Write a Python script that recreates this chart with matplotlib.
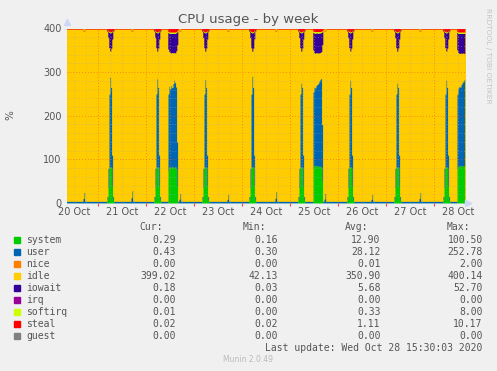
import matplotlib
matplotlib.use('Agg')
import matplotlib.pyplot as plt
from matplotlib.patches import Rectangle
import numpy as np


# sample grid: half-hour steps, hours counted from 20 Oct 00:00
t_start = 8.0
t_end = 207.5
step = 0.5

# baseline (quiet) values per series
base = {"system": 0.3, "user": 4.0, "nice": 0.0, "idle": 394.3, "iowait": 0.2,
        "irq": 0.0, "softirq": 0.0, "steal": 1.2, "guest": 0.0}

# daily backup spike, around 05:45 every day (7 samples each)
spike_hours = [28.5, 52.0, 76.0, 99.5, 124.0, 148.5, 172.0, 196.5]
spike_system = [[8, 35, 80, 83, 82, 40, 8]] * 8
spike_user = [[7, 45, 170, 206, 183, 70, 7],
              [7, 45, 170, 202, 183, 70, 7],
              [7, 45, 170, 200, 183, 70, 7],
              [7, 45, 170, 208, 183, 70, 7],
              [7, 45, 170, 192, 183, 70, 7],
              [7, 45, 170, 199, 183, 70, 7],
              [7, 45, 170, 192, 183, 70, 7],
              [7, 45, 170, 199, 183, 70, 7]]
spike_idle = [[379, 299, 106, 59, 90, 266, 379],
              [379, 299, 106, 63, 90, 266, 379],
              [379, 299, 106, 65, 90, 266, 379],
              [379, 299, 106, 57, 90, 266, 379],
              [379, 299, 106, 73, 90, 266, 379],
              [379, 299, 106, 66, 90, 266, 379],
              [379, 299, 106, 73, 90, 266, 379],
              [379, 299, 106, 66, 90, 266, 379]]
spike_iowait = [[4, 15, 35, 42, 36, 18, 4]] * 8
spike_steal = [[2, 5, 7, 8, 7, 5, 2]] * 8
spike_softirq = [[0, 1, 2, 2, 2, 1, 0]] * 8

# longer busy blocks on 22, 25 and 28 Oct
block_hours = [59.0, 131.5, 203.5]
block_system = [[74, 82, 83, 81, 84, 82, 80, 83, 78, 40],
                [80, 86, 85, 86, 84, 85, 83, 84, 82, 50],
                [78, 84, 85, 84, 86, 85, 84, 86]]
block_user = [[176, 186, 179, 189, 181, 192, 202, 193, 188, 100],
              [175, 180, 179, 184, 188, 190, 197, 200, 204, 130],
              [172, 180, 183, 182, 186, 191, 196, 197]]
block_idle = [[103, 79, 83, 74, 80, 70, 63, 68, 83, 223],
              [96, 79, 79, 75, 72, 69, 64, 61, 61, 183],
              [101, 81, 75, 77, 72, 67, 64, 60]]
block_iowait = [[38, 42, 44, 45, 44, 45, 44, 45, 42, 30],
                [40, 45, 46, 45, 46, 45, 46, 45, 44, 30],
                [40, 44, 46, 46, 45, 46, 45, 46]]
block_steal = [[7, 8, 8, 8, 8, 8, 8, 8, 7, 5],
               [6, 7, 7, 7, 7, 7, 7, 7, 6, 5],
               [7, 8, 8, 8, 8, 8, 8, 8]]
block_softirq = [[2, 3, 3, 3, 3, 3, 3, 3, 2, 2],
                 [3, 3, 4, 3, 3, 4, 3, 3, 3, 2],
                 [2, 3, 3, 3, 3, 3, 3, 3]]

# small user blips late afternoon
blip_hours = [16.5, 40.5, 64.5, 88.5, 112.5, 137.0, 160.5, 184.5]
blip_user = [[10, 24], [12, 28], [9, 22], [8, 20], [11, 26], [9, 22], [8, 20], [10, 24]]
blip_idle = [[384.3, 370.3], [382.3, 366.3], [385.3, 372.3], [386.3, 374.3],
             [383.3, 368.3], [385.3, 372.3], [386.3, 374.3], [384.3, 370.3]]

# legend table
names = ["system", "user", "nice", "idle", "iowait", "irq", "softirq", "steal", "guest"]
colors = ["#00cc00", "#0066b3", "#ff8000", "#ffcc00", "#330099", "#990099",
          "#ccff00", "#ff0000", "#808080"]
cur = [0.29, 0.43, 0.00, 399.02, 0.18, 0.00, 0.01, 0.02, 0.00]
vmin = [0.16, 0.30, 0.00, 42.13, 0.03, 0.00, 0.00, 0.02, 0.00]
vavg = [12.90, 28.12, 0.01, 350.90, 5.68, 0.00, 0.33, 1.11, 0.00]
vmax = [100.50, 252.78, 2.00, 400.14, 52.70, 0.00, 8.00, 10.17, 0.00]

day_labels = ["20 Oct", "21 Oct", "22 Oct", "23 Oct", "24 Oct", "25 Oct",
              "26 Oct", "27 Oct", "28 Oct"]


t = np.arange(t_start, t_end + step / 2, step)
series = {n: np.full(len(t), base[n]) for n in names}


def put(name, hour, vals):
    i0 = int(round((hour - t_start) / step))
    for k, v in enumerate(vals):
        if 0 <= i0 + k < len(t):
            series[name][i0 + k] = v


for j, h in enumerate(spike_hours):
    put("system", h, spike_system[j])
    put("user", h, spike_user[j])
    put("idle", h, spike_idle[j])
    put("iowait", h, spike_iowait[j])
    put("steal", h, spike_steal[j])
    put("softirq", h, spike_softirq[j])
for j, h in enumerate(block_hours):
    put("system", h, block_system[j])
    put("user", h, block_user[j])
    put("idle", h, block_idle[j])
    put("iowait", h, block_iowait[j])
    put("steal", h, block_steal[j])
    put("softirq", h, block_softirq[j])
for j, h in enumerate(blip_hours):
    put("user", h, blip_user[j])
    put("idle", h, blip_idle[j])

W, H = 497, 371
fig = plt.figure(figsize=(W / 100, H / 100), dpi=100, facecolor="#f0f0f0")
ax = fig.add_axes([67 / W, 1 - 203 / H, 399 / W, 174.5 / H])
ax.set_facecolor("#ffcc00")

low = np.zeros(len(t))
for n, c in zip(names, colors):
    high = low + series[n]
    ax.fill_between(t, low, high, step="mid", color=c, lw=0, zorder=1)
    low = high

xmin, xmax = 8.35, 207.85
ax.set_xlim(xmin, xmax)
ax.set_ylim(0, 400)

# grid (drawn on top, rrdtool style): sparse dots
px = 0.6
for y in range(20, 400, 20):
    if y % 100:
        ax.axhline(y, color="#a8a8a8", alpha=0.6, lw=px, ls=(0, (1, 2.5)), zorder=3)
for h in np.arange(6, 210, 6):
    if h % 24:
        ax.axvline(h, color="#a8a8a8", alpha=0.6, lw=px, ls=(0, (1, 2.5)), zorder=3)
for y in range(100, 401, 100):
    ax.axhline(y, color="#f05030", alpha=0.7, lw=px, ls=(0, (1, 2.5)), zorder=3)
for d in range(1, 9):
    ax.axvline(24 * d, color="#f05030", alpha=0.7, lw=px, ls=(0, (1, 2.5)), zorder=3)

for s in ax.spines.values():
    s.set_visible(False)
ax.axhline(0, color="#9fb8c8", lw=0.5, zorder=4)

ax.set_yticks([0, 100, 200, 300, 400])
ax.tick_params(axis="y", length=0, labelsize=7, labelcolor="#555555", pad=4)
ax.set_xticks([24 * d for d in range(1, 9)])
ax.set_xticklabels([])
ax.tick_params(axis="x", which="major", length=2, color="#ff4040", width=0.8)
ax.set_xticks([12 + 24 * d for d in range(9)], minor=True)
ax.set_xticklabels(day_labels, minor=True)
ax.tick_params(axis="x", which="minor", length=0, labelsize=7, labelcolor="#555555", pad=3)

# axis arrows
ax.plot([0.0], [1.035], marker="^", ms=4, color="#ccd6f6", transform=ax.transAxes, clip_on=False)
ax.plot([1.006], [0.0], marker=">", ms=4, color="#ccd6f6", transform=ax.transAxes, clip_on=False)

fig.text(248 / W, 1 - 19 / H, "CPU usage - by week", ha="center", va="center",
         fontsize=9.5, color="#555555")
fig.text(10 / W, 1 - 115 / H, "%", ha="center", va="center", rotation=90,
         fontsize=7.5, color="#555555")
fig.text(488 / W, 1 - 56 / H, "RRDTOOL / TOBI OETIKER", ha="center", va="center",
         rotation=270, fontsize=5.4, color="#c4c4c4")

mono = "DejaVu Sans Mono"
col_x = [175.7, 278.3, 380.7, 482.7]
head_x = [163, 266, 368, 470]
for hx, lab in zip(head_x, ["Cur:", "Min:", "Avg:", "Max:"]):
    fig.text(hx / W, 1 - 227.3 / H, lab, ha="right", va="center", family=mono,
             fontsize=7, color="#555555")
for r, n in enumerate(names):
    yc = 240 + r * 11.95
    fig.patches.append(Rectangle((14 / W, 1 - (yc + 3) / H), 6 / W, 6 / H,
                                 transform=fig.transFigure, color=colors[r]))
    fig.text(26.5 / W, 1 - yc / H, n, ha="left", va="center", family=mono,
             fontsize=7, color="#555555")
    for cx, v in zip(col_x, [cur[r], vmin[r], vavg[r], vmax[r]]):
        fig.text(cx / W, 1 - yc / H, "%.2f" % v, ha="right", va="center",
                 family=mono, fontsize=7, color="#555555")

fig.text(482.7 / W, 1 - 347.7 / H, "Last update: Wed Oct 28 15:30:03 2020",
         ha="right", va="center", family=mono, fontsize=7, color="#555555")
fig.text(248 / W, 1 - 359.3 / H, "Munin 2.0.49", ha="center", va="center",
         fontsize=5.5, color="#bbbbbb")

fig.savefig("out.png", dpi=100, facecolor=fig.get_facecolor())
